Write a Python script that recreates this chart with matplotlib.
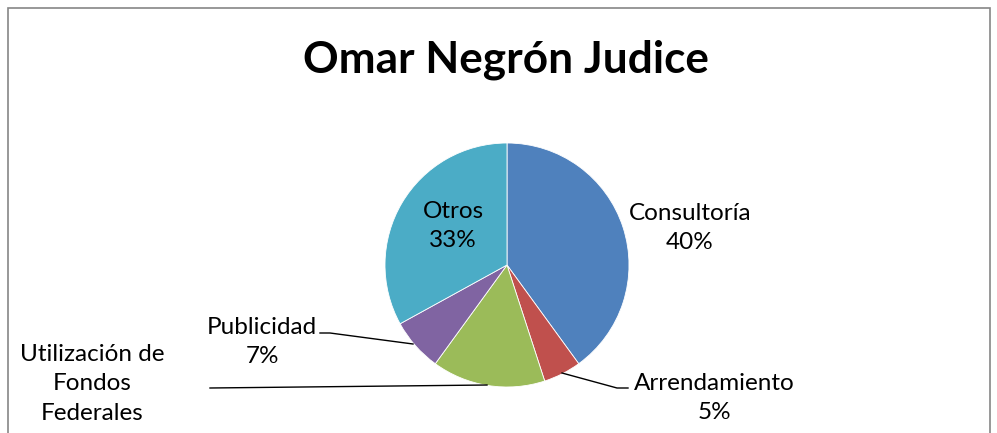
import matplotlib
matplotlib.use('Agg')
import matplotlib.pyplot as plt
from matplotlib.patches import Rectangle

plt.rcParams['font.family'] = ['Lato', 'DejaVu Sans']

# data
categories = ['Consultoría', 'Arrendamiento', 'Utilización de Fondos Federales',
              'Publicidad', 'Otros']
shares = [40, 5, 15, 7, 33]
colors = ['#4F81BD', '#C0504D', '#9BBB59', '#8064A2', '#4BACC6']
title = 'Omar Negrón Judice'

W, H = 997, 433
fig = plt.figure(figsize=(W / 100, H / 100), dpi=100)
ax = fig.add_axes([0, 0, 1, 1])

def py(y):
    # picture row -> data y
    return H - y

# chart frame (bottom runs off the picture)
ax.add_patch(Rectangle((8, -20), 982, py(8) + 20, fill=False,
                       edgecolor='#868686', lw=1.2, clip_on=False))

ax.pie(shares, colors=colors, startangle=90, counterclock=False,
       center=(507, py(265)), radius=122, frame=True,
       wedgeprops={'edgecolor': 'white', 'linewidth': 0.6})
ax.set_xlim(0, W)
ax.set_ylim(0, H)
ax.set_aspect('equal')
ax.axis('off')

ax.text(506, py(60), title, ha='center', va='center',
        fontsize=31.8, fontweight='bold', color='black')

fs = 17.5
lbl = dict(ha='center', va='center', fontsize=fs, color='black',
           linespacing=1.5)

# Consultoría
ax.text(690, py(228), f'{categories[0]}\n{shares[0]}%', **lbl)
# Otros (inside slice)
ax.text(453, py(226), f'{categories[4]}\n{shares[4]}%', **lbl)
# Arrendamiento with leader
ax.text(714, py(398), f'{categories[1]}\n{shares[1]}%', **lbl)
ax.plot([562, 617, 628], [py(373), py(388), py(388)], color='black', lw=1)
# Publicidad with leader
ax.text(262, py(342), f'{categories[3]}\n{shares[3]}%', **lbl)
ax.plot([320, 330, 413], [py(333), py(333), py(344)], color='black', lw=1)
# Utilización de Fondos Federales (percent falls below the picture)
ax.text(92, py(384), 'Utilización de\nFondos\nFederales', **lbl)
ax.plot([210, 487], [py(388), py(385)], color='black', lw=1)

fig.savefig('out.png', dpi=100)
